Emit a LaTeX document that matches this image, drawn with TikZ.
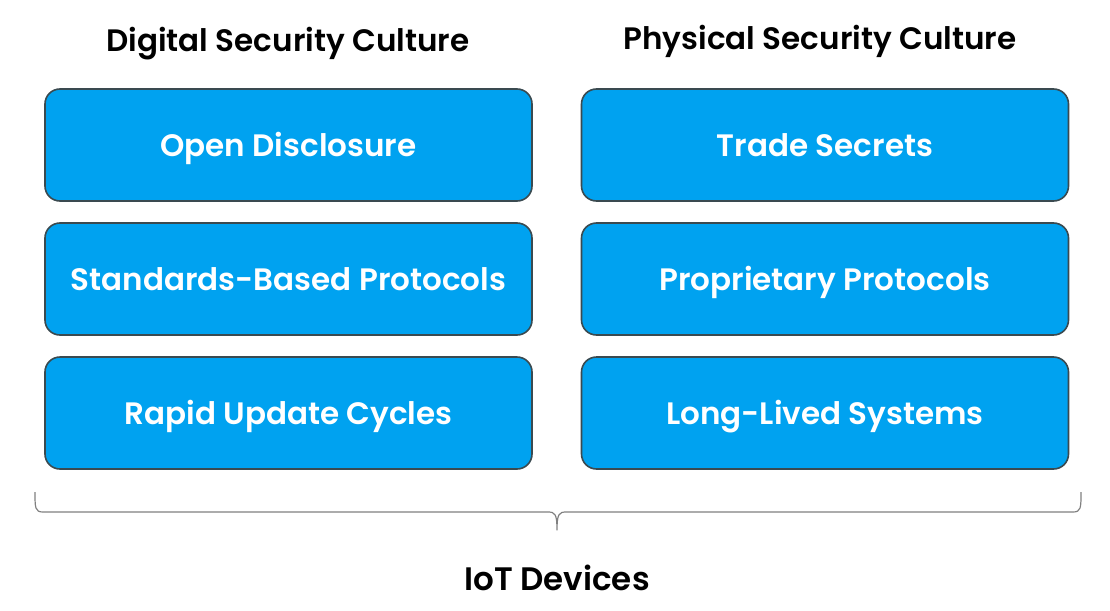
\documentclass[tikz,border=0pt]{standalone}
\usepackage{fontspec}
\setmainfont{Poppins}[BoldFont={Poppins SemiBold}]
\definecolor{boxblue}{HTML}{00A2F0}
\definecolor{boxedge}{HTML}{3A4A50}
\definecolor{bracegray}{HTML}{808080}
\begin{document}
\begin{tikzpicture}[x=1pt,y=-1pt,
  cbox/.style={draw=boxedge,line width=1.6pt,fill=boxblue,rounded corners=15pt,
    minimum width=487pt,minimum height=112pt,inner sep=0pt,
    text height=22pt,text depth=0pt,
    text=white,font=\fontsize{31}{36}\selectfont\bfseries},
  heading/.style={text=black,font=\fontsize{31}{36}\selectfont\bfseries,inner sep=0pt,
    text height=21pt,text depth=0pt}]
\useasboundingbox (0,0) rectangle (1110,610);
\node[heading] (hd) at (288,41) {Digital Security Culture};
\node[heading] (hp) at (820,39) {Physical Security Culture};
\node[cbox] (d1) at (288.5,145) {Open Disclosure};
\node[cbox] (d2) at (288.5,279) {Standards-Based Protocols};
\node[cbox] (d3) at (288.5,413) {Rapid Update Cycles};
\node[cbox] (p1) at (825,145) {Trade Secrets};
\node[cbox] (p2) at (825,279) {Proprietary Protocols};
\node[cbox] (p3) at (825,413) {Long-Lived Systems};
\coordinate (bl) at (35,492);
\coordinate (br) at (1081,492);
\coordinate (bm) at (557,530);
\draw[bracegray,line width=1.2pt,line join=round]
  (bl) .. controls (35,508) and (35,512) .. (43,512) -- (548,512)
  .. controls (555,512) and (557,514) .. (bm)
  .. controls (557,514) and (559,512) .. (566,512) -- (1073,512)
  .. controls (1081,512) and (1081,508) .. (br);
\node[heading,font=\fontsize{32.5}{38}\selectfont\bfseries] (iot) at (557,580) {IoT Devices};
\end{tikzpicture}
\end{document}
